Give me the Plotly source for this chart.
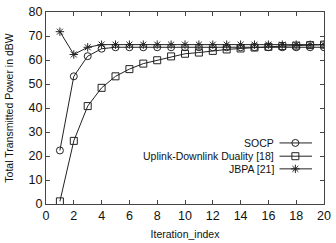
import plotly.graph_objects as go

iterations = list(range(1, 21))
socp = [22.3, 53.2, 61.6, 64.7, 65.3, 65.3, 65.3, 65.3, 65.3, 65.3,
        65.3, 65.3, 65.3, 65.3, 65.3, 65.3, 65.3, 65.3, 65.3, 65.3]
uld = [1.1, 26.3, 40.8, 48.4, 53.2, 56.2, 58.5, 59.9, 61.5, 62.6,
       63.1, 63.8, 64.4, 64.8, 65.2, 65.5, 65.8, 66.0, 66.2, 66.4]
jbpa = [71.8, 62.3, 65.3, 66.4, 66.4, 66.4, 66.4, 66.4, 66.4, 66.4,
        66.4, 66.4, 66.4, 66.4, 66.4, 66.4, 66.4, 66.4, 66.4, 66.4]

series_names = ["SOCP", "Uplink-Downlink Duality [18]", "JBPA [21]"]
series_values = [socp, uld, jbpa]
symbols = ["circle-open", "square-open", "asterisk-open"]

x_ticks = list(range(0, 21, 2))
y_ticks = list(range(0, 81, 10))

FONT = "Liberation Sans, Arial, sans-serif"
LINE = "#222222"

fig = go.Figure()
for name, vals, sym in zip(series_names, series_values, symbols):
    fig.add_trace(go.Scatter(
        x=iterations, y=vals, mode="lines+markers", name=name,
        line=dict(color=LINE, width=1),
        marker=dict(symbol=sym, size=7, color=LINE, line=dict(width=1, color=LINE)),
        showlegend=False))

# custom legend (text right-aligned, sample on the right)
leg_y = [0.318, 0.249, 0.183]
for name, sym, ly in zip(series_names, symbols, leg_y):
    fig.add_annotation(x=0.826, y=ly, xref="paper", yref="paper", text=name,
                       showarrow=False, xanchor="right", yanchor="middle",
                       font=dict(family=FONT, size=10.5, color="#111111"))
    fig.add_shape(type="line", xref="paper", yref="paper", x0=0.84, x1=0.957,
                  y0=ly, y1=ly, line=dict(color=LINE, width=1))
fig.add_trace(go.Scatter(
    x=[0.897] * 3, y=leg_y, xaxis="x2", yaxis="y2", mode="markers",
    marker=dict(symbol=symbols, size=7, color=LINE, line=dict(width=1, color=LINE)),
    showlegend=False, hoverinfo="skip"))

fig.update_layout(
    width=336, height=243,
    margin=dict(l=46, r=9, t=5, b=36),
    paper_bgcolor="white", plot_bgcolor="white",
    font=dict(family=FONT, size=12, color="#111111"),
    showlegend=False,
    xaxis=dict(range=[0, 20], tickvals=x_ticks, ticks="inside", ticklen=4,
               tickcolor="#444444", showline=True, linecolor="#444444", linewidth=1,
               mirror="ticks", showgrid=False, zeroline=False,
               tickfont=dict(size=12.5), ticklabeloverflow="allow",
               title=dict(text="Iteration_index", font=dict(size=10.5), standoff=8)),
    yaxis=dict(range=[0, 80], tickvals=y_ticks, ticks="inside", ticklen=4,
               tickcolor="#444444", showline=True, linecolor="#444444", linewidth=1,
               mirror="ticks", showgrid=False, zeroline=False,
               tickfont=dict(size=12.5), ticklabeloverflow="allow",
               title=dict(text="Total Transmitted Power in dBW", font=dict(size=10.5), standoff=12)),
    xaxis2=dict(range=[0, 1], overlaying="x", visible=False),
    yaxis2=dict(range=[0, 1], overlaying="y", visible=False),
)

fig.write_html("out.html", config={"displayModeBar": False},
               post_script="document.body.style.margin='0';document.body.style.overflow='hidden';")
